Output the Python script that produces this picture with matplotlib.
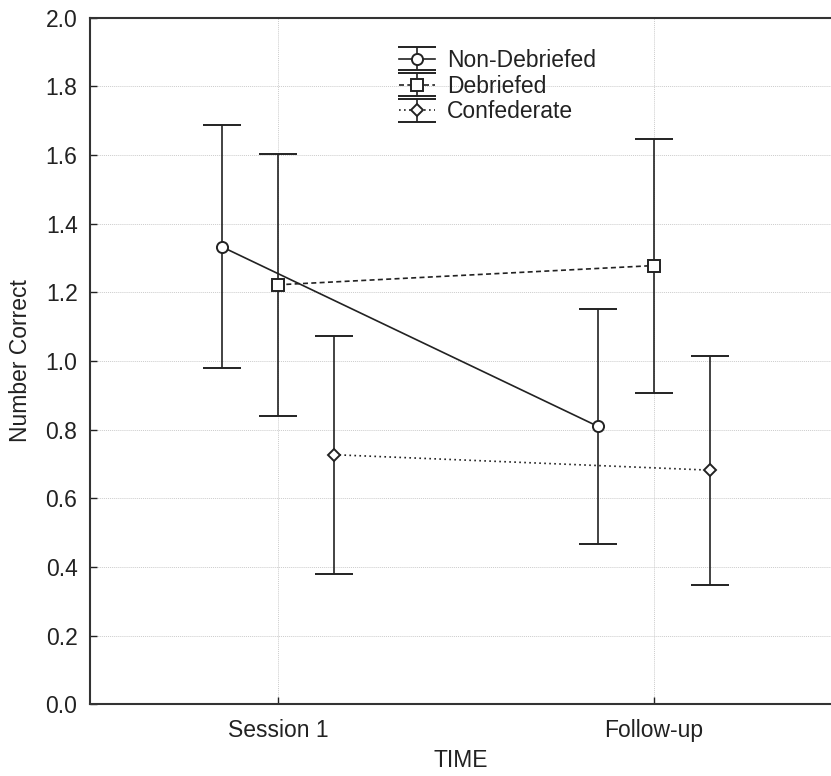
import matplotlib
matplotlib.use("Agg")
import matplotlib.pyplot as plt
import numpy as np

plt.rcParams['font.family'] = ['Liberation Sans', 'DejaVu Sans']

# --- data ---
times = ["Session 1", "Follow-up"]
groups = ["Non-Debriefed", "Debriefed", "Confederate"]

nd_mean = [1.333, 0.810]
nd_low = [0.979, 0.467]
nd_high = [1.687, 1.151]

db_mean = [1.222, 1.278]
db_low = [0.839, 0.908]
db_high = [1.604, 1.647]

cf_mean = [0.727, 0.682]
cf_low = [0.380, 0.347]
cf_high = [1.074, 1.015]

offsets = [-0.15, 0.0, 0.15]
markers = ["o", "s", "D"]
msizes = [8, 8, 6.5]
styles = ["-", (0, (3, 2)), (0, (1, 2))]

fig = plt.figure(figsize=(8.31, 7.76), dpi=100)
ax = fig.add_axes([90 / 831, 1 - 704.3 / 776, 1 - 90 / 831, (704.3 - 17.7) / 776])

ink = "#222222"
x = np.arange(len(times))
series = [(nd_mean, nd_low, nd_high), (db_mean, db_low, db_high), (cf_mean, cf_low, cf_high)]
for i, (m, lo, hi) in enumerate(series):
    m = np.array(m)
    err = [m - np.array(lo), np.array(hi) - m]
    ax.errorbar(x + offsets[i], m, yerr=err, color=ink, ecolor=ink, elinewidth=1.2,
                capsize=13.5, capthick=1.2, lw=1.2, linestyle=styles[i],
                marker=markers[i], ms=msizes[i], mfc="white", mec=ink, mew=1.4,
                label=groups[i], zorder=3)

ax.set_xlim(-0.5, 1.4707)
ax.set_ylim(0, 2.0)
ax.set_xticks(x)
ax.set_xticklabels(times)
ax.set_yticks(np.arange(0, 2.01, 0.2))
ax.set_yticklabels([f"{v:.1f}" for v in np.arange(0, 2.01, 0.2)])
ax.tick_params(direction="in", length=5, width=1, labelsize=16.5, colors=ink)
ax.tick_params(axis="x", pad=10.5)
ax.tick_params(axis="y", pad=9)
ax.grid(True, color="#cccccc", linestyle=(0, (1, 1)), linewidth=0.7)
ax.set_axisbelow(True)
ax.spines["right"].set_visible(False)
for s in ["left", "top", "bottom"]:
    ax.spines[s].set_linewidth(1.5)
    ax.spines[s].set_color("#333333")

ax.set_xlabel("TIME", fontsize=16.5, color=ink, labelpad=5)
ax.set_ylabel("Number Correct", fontsize=16.5, color=ink, labelpad=10)

leg = ax.legend(loc="upper left", bbox_to_anchor=(0.404, 0.968), frameon=False,
                fontsize=16.5, handlelength=1.6, handletextpad=0.5, labelspacing=0.12,
                borderaxespad=0)
for t in leg.get_texts():
    t.set_color(ink)

fig.savefig("out.png", dpi=100)
